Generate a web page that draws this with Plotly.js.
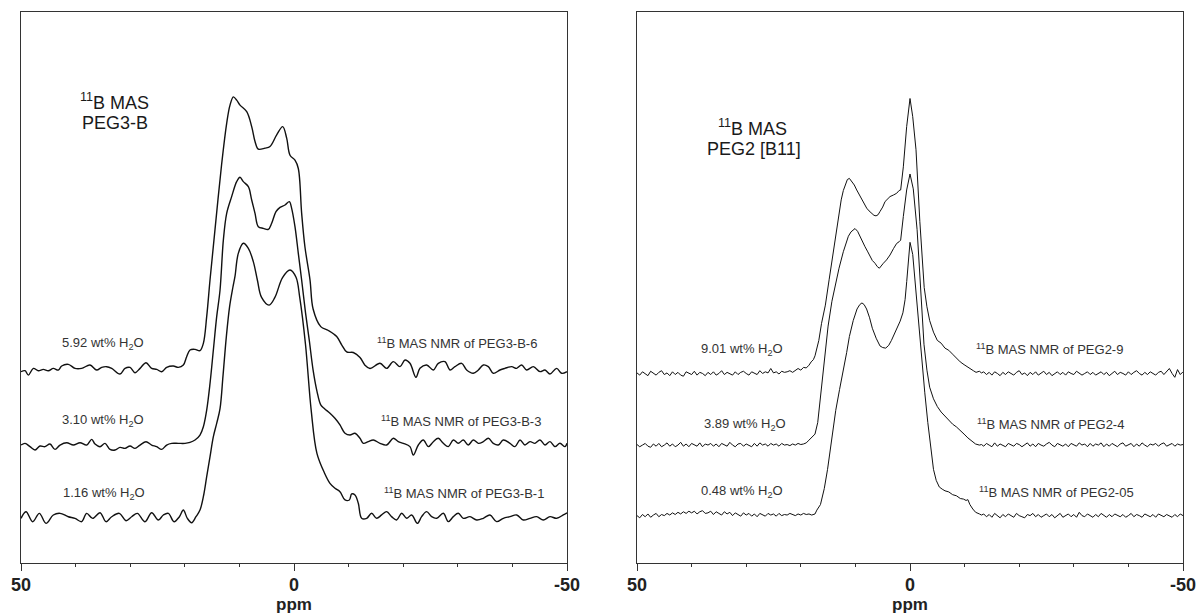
<!DOCTYPE html>
<html>
<head>
<meta charset="utf-8">
<script src="https://cdn.plot.ly/plotly-3.0.1.min.js"></script>
<style>html,body{margin:0;padding:0;background:#fff;}#chart{width:1197px;height:615px;}</style>
</head>
<body>
<div id="chart"></div>
<script>
// ---------- Left panel: 11B MAS PEG3-B (ppm, intensity as displayed) ----------
const peg3b6_ppm = [50, 49.26, 48.65, 47.74, 46.82, 45.91, 44.99, 44.08, 43.16, 42.55,
 41.33, 40.11, 38.89, 37.36, 36.14, 35.22, 34.31, 33.39, 31.87, 30.95,
 30.03, 29.12, 28.2, 27.1, 26.07, 25.15, 24.23, 23.32, 22.1, 21.18,
 20.27, 19.66, 19.05, 18.13, 17.22, 16.6, 15.99, 15.38, 14.47, 13.24,
 12.33, 11.72, 11.1, 10.5, 9.89, 8.66, 7.75, 7.14, 6.53, 5.31,
 4.4, 3.17, 2.07, 1.34, 0.73, -0.18, -0.79, -1.4, -2.0, -2.93,
 -3.5, -4.9, -6.3, -7.82, -8.73, -9.65, -10.86, -12.09, -13.0, -13.92,
 -15.75, -16.97, -18.19, -19.41, -20.33, -21.24, -22.34, -23.07, -24.29, -25.52,
 -26.43, -27.65, -28.57, -29.48, -30.7, -31.62, -32.84, -33.76, -34.67, -35.59,
 -36.5, -37.73, -38.64, -39.86, -40.78, -41.69, -42.61, -43.83, -45.05, -45.97,
 -46.88, -48.1, -49.02, -50];
const peg3b6_int = [34.72, 34.9, 34.1, 35.32, 34.9, 35.14, 34.9, 35.32, 35.02, 35.75,
 36.05, 35.32, 35.32, 35.93, 35.02, 35.5, 35.63, 35.32, 34.3, 35.32,
 35.5, 34.54, 35.32, 36.35, 35.32, 35.14, 34.72, 35.5, 35.75, 35.5,
 35.93, 37.44, 38.65, 38.77, 38.53, 39.86, 44.7, 51.4, 60.5, 72.5,
 79.8, 83.1, 84.6, 84.0, 83.1, 81.9, 79.2, 76.5, 75.1, 75.3,
 75.6, 77.7, 79.2, 77.1, 74.0, 73.1, 71.6, 63.5, 57.4, 51.4,
 46.1, 42.9, 42.2, 41.1, 39.6, 38.3, 38.2, 37.3, 35.9, 35.3,
 36.24, 35.33, 36.54, 35.64, 36.85, 36.24, 33.7, 35.33, 35.94, 35.03,
 36.24, 36.54, 35.03, 35.64, 36.24, 35.03, 34.43, 35.03, 35.94, 35.64,
 34.43, 35.03, 35.33, 35.64, 35.33, 35.94, 35.03, 35.64, 34.73, 35.03,
 34.3, 35.33, 34.43, 34.73];

const peg3b3_ppm = [50, 49.26, 48.35, 47.43, 46.52, 45.6, 44.69, 43.77, 42.85, 41.63,
 40.41, 39.19, 37.97, 37.05, 36.44, 35.53, 34.61, 33.7, 32.78, 31.87,
 30.95, 30.03, 29.12, 28.2, 27.1, 26.07, 25.15, 24.23, 23.32, 22.4,
 21.18, 19.96, 19.05, 18.13, 17.22, 16.6, 15.99, 15.38, 14.77, 14.16,
 13.55, 12.94, 12.33, 11.42, 10.5, 9.89, 9.28, 8.36, 7.75, 7.14,
 6.53, 5.62, 4.7, 4.09, 3.3, 2.56, 1.65, 0.85, 0.43, -0.18,
 -0.79, -1.4, -2.1, -2.8, -3.5, -4.2, -4.9, -5.6, -6.59, -7.5,
 -8.42, -9.34, -10.25, -11.17, -12.08, -12.7, -13.61, -14.53, -15.75, -16.97,
 -18.19, -19.1, -20.02, -21.24, -21.85, -22.77, -23.68, -24.6, -25.52, -26.43,
 -27.35, -28.26, -29.18, -30.09, -31.01, -31.92, -32.84, -33.76, -34.67, -35.59,
 -36.5, -37.42, -38.34, -39.56, -40.47, -41.39, -42.3, -43.22, -44.14, -45.05,
 -45.97, -46.88, -47.8, -48.71, -49.63, -50];
const peg3b3_int = [21.41, 21.71, 21.11, 20.5, 21.23, 21.11, 21.59, 20.62, 21.41, 21.83,
 21.41, 21.83, 21.41, 22.44, 21.59, 21.11, 21.71, 20.62, 20.5, 20.99,
 20.8, 21.23, 20.8, 21.41, 22.01, 21.41, 21.11, 20.62, 21.41, 21.71,
 21.71, 21.71, 21.89, 22.32, 23.22, 24.74, 27.76, 32.6, 38.65, 44.7,
 49.5, 58.6, 63.46, 66.49, 69.21, 70.0, 69.21, 68.3, 65.88, 63.46,
 61.04, 60.74, 60.56, 61.65, 63.76, 64.55, 64.97, 65.58, 64.37, 61.04,
 56.2, 51.36, 45.5, 40.4, 35.0, 31.2, 28.7, 28.0, 27.17, 26.26,
 25.05, 23.54, 23.23, 23.54, 22.63, 21.72, 22.02, 22.33, 21.72, 21.42,
 22.63, 22.02, 21.72, 21.12, 19.6, 21.42, 22.33, 21.12, 22.02, 22.63,
 21.72, 21.12, 22.33, 21.72, 22.33, 21.42, 22.33, 21.72, 22.02, 22.63,
 21.72, 21.42, 22.33, 21.72, 21.12, 22.33, 21.42, 22.02, 21.72, 22.33,
 21.42, 22.02, 21.12, 21.72, 21.12, 21.72];

const peg3b1_ppm = [50, 49.08, 47.86, 46.64, 45.42, 44.08, 42.85, 41.33, 40.11, 38.89,
 37.97, 36.87, 35.53, 34.43, 33.39, 31.99, 30.77, 29.73, 28.69, 27.29,
 26.07, 24.85, 23.93, 23.01, 21.97, 20.99, 20.27, 19.53, 18.74, 17.95,
 17.22, 16.6, 15.99, 15.38, 14.77, 14.16, 13.55, 13.0, 12.4, 11.8,
 11.2, 10.81, 10.2, 9.28, 8.36, 7.45, 6.71, 5.94, 4.55, 3.5,
 2.1, 0.73, -0.37, -1.05, -2.1, -3.15, -4.2, -5.6, -6.59, -7.51,
 -8.42, -9.34, -10.13, -10.56, -11.17, -11.78, -12.39, -13.31, -14.22, -15.14,
 -16.05, -16.97, -17.88, -18.8, -19.72, -20.63, -21.55, -22.59, -23.38, -24.29,
 -25.21, -26.13, -27.35, -28.26, -29.18, -30.09, -31.01, -32.23, -33.45, -34.67,
 -35.89, -37.11, -38.34, -39.56, -40.78, -42.0, -43.22, -44.44, -45.66, -46.88,
 -48.1, -49.32, -50];
const peg3b1_int = [8.1, 9.31, 7.5, 9.01, 7.19, 8.71, 9.01, 8.4, 8.1, 7.5,
 9.01, 8.1, 9.13, 7.5, 8.4, 9.01, 7.68, 8.4, 9.01, 7.5,
 9.13, 7.8, 8.71, 9.01, 7.5, 8.4, 9.61, 8.1, 7.31, 8.4,
 9.61, 12.03, 15.66, 19.29, 22.92, 25.34, 28.0, 34.0, 41.0, 46.5,
 50.0, 52.0, 56.2, 58.02, 57.11, 54.69, 51.36, 48.2, 46.8, 48.2,
 51.8, 53.18, 51.85, 48.2, 39.7, 27.7, 19.9, 16.3, 14.46, 13.56,
 12.95, 11.44, 11.44, 12.53, 12.35, 10.83, 8.11, 8.11, 9.02, 8.11,
 8.72, 9.32, 8.41, 7.81, 9.02, 8.11, 8.72, 7.2, 8.41, 9.32,
 8.41, 8.11, 9.02, 7.51, 8.41, 9.02, 8.11, 8.41, 7.81, 8.11,
 8.72, 7.51, 8.11, 8.41, 8.72, 7.81, 8.11, 8.41, 7.81, 8.41,
 8.11, 8.72, 9.1];

// ---------- Right panel: 11B MAS PEG2 [B11] ----------
const ppmBaseLeft = [50, 49.5, 49, 48.5, 48, 47.5, 47, 46.5, 46, 45.5,
 45, 44.5, 44, 43.5, 43, 42.5, 42, 41.5, 41, 40.5,
 40, 39.5, 39, 38.5, 38, 37.5, 37, 36.5, 36, 35.5,
 35, 34.5, 34, 33.5, 33, 32.5, 32, 31.5, 31, 30.5,
 30, 29.5, 29, 28.5, 28, 27.5, 27, 26.5, 26, 25.5,
 25, 24.5, 24, 23.5, 23];
const ppmBaseRight = [-13.5, -14, -14.5, -15, -15.5, -16, -16.5, -17, -17.5, -18,
 -18.5, -19, -19.5, -20, -20.5, -21, -21.5, -22, -22.5, -23,
 -23.5, -24, -24.5, -25, -25.5, -26, -26.5, -27, -27.5, -28,
 -28.5, -29, -29.5, -30, -30.5, -31, -31.5, -32, -32.5, -33,
 -33.5, -34, -34.5, -35, -35.5, -36, -36.5, -37, -37.5, -38,
 -38.5, -39, -39.5, -40, -40.5, -41, -41.5, -42, -42.5, -43,
 -43.5, -44, -44.5, -45, -45.5, -46, -46.5, -47, -47.5, -48,
 -48.5, -49, -49.5, -50];

// PEG2-9
const peg2_9_baseLeft = [34.5, 34.1, 34.7, 34.3, 34.0, 34.8, 34.4, 34.1, 34.6, 34.9,
 34.2, 34.5, 34.0, 34.7, 34.2, 34.6, 34.1, 33.9, 34.7, 34.4,
 34.2, 34.8, 34.1, 34.6, 34.4, 34.0, 34.6, 34.2, 34.7, 34.1,
 34.4, 34.9, 34.2, 34.6, 34.4, 34.1, 34.7, 34.2, 34.6, 34.8,
 34.4, 34.1, 34.7, 34.5, 34.2, 34.9, 34.4, 34.7, 34.5, 35.3,
 34.5, 34.7, 34.3, 34.8, 34.6];
const peg2_9_peakPpm = [22.5, 22, 21.5, 21, 20.5, 20, 19.5, 19, 18.5, 18.1,
 17.7, 17.4, 16.7, 16.2, 15.5, 14.8, 14.04, 13.5, 13.12, 12.6,
 12.21, 11.8, 11.47, 11.1, 10.68, 10.2, 9.76, 9.3, 8.85, 8.4,
 7.93, 7.5, 7.02, 6.6, 6.22, 5.85, 5.49, 5.0, 4.57, 4.1,
 3.66, 3.0, 2.44, 2.0, 1.71, 1.22, 0.61, 0.0, -0.5, -1.1,
 -1.8, -2.6, -3.1, -3.6, -4.3, -5.0, -5.7, -6.4, -7.1, -7.8,
 -8.5, -9.2, -9.9, -10.6, -11.1, -11.6, -12.1, -12.7, -13.1];
const peg2_9_peak = [34.7, 34.9, 34.6, 35.0, 35.3, 35.0, 35.5, 35.4, 35.9, 36.5,
 36.9, 37.6, 40.4, 43.5, 46.8, 51.5, 56.8, 60.3, 62.8, 65.9,
 67.6, 68.9, 69.6, 69.8, 69.3, 68.6, 67.7, 66.9, 65.9, 65.2,
 64.4, 63.9, 63.5, 63.1, 63.0, 63.2, 63.8, 64.6, 65.6, 66.1,
 66.5, 66.8, 67.1, 67.6, 67.7, 71.9, 79.2, 84.3, 81.0, 75.0,
 62.0, 50.0, 46.5, 44.0, 41.9, 40.4, 39.9, 39.0, 38.6, 37.9,
 37.1, 36.5, 36.0, 35.5, 35.3, 34.9, 34.6, 34.8, 34.5];
const peg2_9_baseRight = [34.7, 34.2, 34.6, 34.1, 34.7, 34.4, 34.0, 34.6, 34.2, 34.7,
 34.4, 34.1, 34.6, 34.9, 34.2, 34.5, 34.0, 34.6, 34.2, 34.7,
 34.1, 34.4, 34.8, 34.2, 34.6, 34.0, 34.4, 34.7, 34.2, 34.6,
 34.1, 34.7, 34.4, 34.2, 34.8, 34.5, 34.1, 34.4, 34.7, 34.2,
 34.6, 34.1, 34.4, 34.7, 34.2, 34.6, 34.0, 34.4, 34.8, 34.2,
 34.6, 34.4, 34.1, 34.7, 34.2, 34.6, 34.9, 34.4, 34.1, 34.6,
 34.2, 34.7, 34.4, 34.1, 34.6, 34.8, 34.2, 34.7, 35.3, 34.4,
 33.7, 35.1, 34.2, 34.7];

// PEG2-4
const peg2_4_baseLeft = [21.5, 21.1, 21.4, 21.7, 21.2, 21.0, 21.6, 21.2, 21.7, 21.1,
 21.4, 21.8, 21.2, 21.6, 21.1, 21.4, 21.9, 21.2, 21.6, 21.1,
 21.7, 21.4, 21.2, 21.8, 21.1, 21.6, 21.4, 21.7, 21.2, 21.6,
 21.1, 21.7, 21.4, 21.2, 21.9, 21.4, 21.1, 21.6, 21.7, 21.2,
 21.6, 21.4, 21.1, 21.7, 21.2, 21.8, 21.4, 21.6, 21.2, 21.7,
 21.4, 21.6, 21.2, 21.7, 21.4];
const peg2_4_peakPpm = [22.5, 22, 21.5, 21, 20.5, 20, 19.5, 19, 18.5, 18,
 17.4, 16.9, 16.5, 16.0, 15.5, 15.0, 14.3, 13.6, 13.0, 12.21,
 11.7, 11.29, 10.8, 10.4, 10.07, 9.6, 9.15, 8.7, 8.24, 7.8,
 7.32, 6.9, 6.41, 6.0, 5.61, 5.2, 4.88, 4.3, 3.66, 3.0,
 2.44, 2.0, 1.71, 1.22, 0.61, 0.0, -0.6, -1.3, -1.9, -2.56,
 -3.1, -3.6, -4.3, -5.0, -5.7, -6.4, -7.1, -7.8, -8.5, -9.2,
 -9.9, -10.6, -11.3, -12.0, -12.7, -13.1];
const peg2_4_peak = [21.5, 21.3, 21.6, 21.4, 21.7, 21.5, 21.6, 21.8, 22.3, 22.8,
 23.4, 25.5, 29.0, 34.0, 38.8, 43.0, 47.5, 51.0, 53.5, 56.5,
 58.3, 59.3, 60.1, 60.5, 60.7, 60.2, 59.2, 58.4, 57.4, 56.6,
 55.6, 54.9, 54.4, 53.8, 53.5, 53.9, 54.4, 55.0, 55.9, 57.1,
 58.0, 58.3, 58.6, 62.9, 67.7, 70.6, 67.9, 60.5, 49.5, 39.7,
 35.0, 31.9, 29.8, 28.4, 27.4, 26.6, 25.9, 25.2, 24.7, 24.1,
 23.4, 22.7, 22.1, 21.6, 21.4, 21.5];
const peg2_4_baseRight = [21.2, 21.7, 21.4, 21.1, 21.8, 21.2, 21.6, 21.4, 21.1, 21.7,
 21.4, 21.2, 21.7, 21.5, 21.1, 21.4, 21.8, 21.2, 21.6, 21.1,
 21.7, 21.4, 21.2, 21.6, 21.9, 21.4, 21.1, 21.7, 21.4, 21.2,
 21.6, 21.1, 21.7, 21.4, 21.2, 21.8, 21.4, 21.6, 21.1, 21.7,
 21.2, 21.6, 21.4, 21.8, 21.1, 21.6, 21.2, 21.7, 21.4, 21.1,
 21.6, 21.8, 21.2, 21.4, 21.7, 21.1, 21.6, 21.2, 21.8, 21.4,
 21.1, 21.6, 21.4, 21.7, 21.2, 21.6, 21.8, 21.2, 21.4, 21.7,
 21.2, 21.6, 21.4, 21.5];

// PEG2-05
const peg2_05_baseLeft = [8.6, 8.2, 8.8, 8.4, 8.9, 8.3, 8.7, 9.0, 8.4, 8.8,
 8.6, 9.0, 8.7, 9.1, 8.8, 9.2, 8.9, 9.3, 9.0, 9.4,
 9.1, 9.4, 8.9, 9.3, 9.5, 9.0, 9.1, 9.4, 8.8, 9.3,
 9.0, 8.7, 9.3, 8.9, 9.2, 8.6, 9.1, 8.8, 8.5, 9.1,
 8.7, 9.0, 8.5, 8.9, 8.4, 9.0, 8.7, 8.5, 9.0, 8.7,
 8.9, 8.5, 9.0, 8.6, 8.8];
const peg2_05_peakPpm = [22.5, 22, 21.5, 21, 20.5, 20, 19.5, 19, 18.5, 18,
 17.4, 17.06, 16.4, 15.7, 15.1, 14.6, 13.6, 12.9, 12.2, 11.6,
 11.1, 10.4, 9.7, 9.2, 8.8, 8.4, 7.95, 7.4, 6.9, 6.2,
 5.5, 5.0, 4.45, 3.9, 3.4, 2.9, 2.35, 1.8, 1.3, 0.9,
 0.6, 0.25, 0.0, -0.5, -1.16, -1.7, -2.2, -2.7, -3.26, -3.8,
 -4.3, -4.8, -5.36, -5.9, -6.41, -7.1, -7.81, -8.5, -9.22, -9.8,
 -10.27, -10.6, -10.97, -11.5, -12.02, -12.72, -13.1];
const peg2_05_peak = [8.7, 9.0, 8.8, 8.6, 8.9, 8.7, 9.0, 8.8, 8.9, 8.7,
 8.9, 9.6, 10.6, 13.5, 17.0, 20.6, 27.7, 31.5, 34.8, 38.2,
 41.1, 44.0, 46.1, 46.9, 47.2, 46.9, 46.1, 44.5, 42.6, 40.8,
 39.4, 39.1, 39.0, 39.5, 40.4, 41.4, 42.6, 43.9, 45.4, 47.8,
 51.1, 55.3, 58.2, 56.0, 48.2, 42.5, 36.9, 31.0, 25.5, 20.8,
 17.0, 15.0, 13.8, 13.4, 13.1, 12.9, 12.4, 12.2, 11.7, 11.6,
 11.35, 11.5, 10.6, 9.8, 9.2, 8.9, 8.7];
const peg2_05_baseRight = [8.9, 8.4, 8.8, 8.3, 9.0, 8.6, 8.2, 8.8, 8.4, 8.9,
 8.6, 8.3, 9.0, 8.6, 8.4, 8.2, 8.8, 8.6, 9.0, 8.4,
 8.8, 8.3, 8.6, 8.9, 8.4, 8.8, 8.2, 8.6, 9.0, 8.3,
 8.6, 8.9, 8.4, 8.8, 8.3, 9.2, 8.6, 8.4, 8.9, 8.6,
 8.3, 8.8, 8.4, 9.0, 8.6, 8.3, 8.8, 8.4, 8.9, 8.6,
 8.4, 8.8, 8.3, 8.6, 9.0, 8.4, 8.8, 8.6, 8.3, 8.9,
 8.6, 8.4, 8.8, 8.3, 8.9, 8.6, 8.4, 8.8, 8.6, 8.3,
 8.8, 8.4, 8.9, 8.6];

// ---------- Tick labels and texts ----------
const tickValues = [50, 0, -50];
const tickLabels = ['50', '0', '-50'];
const minorTickStep = 10;
const axisTitle = 'ppm';
const leftTitleLines = ['<sup>11</sup>B MAS', 'PEG3-B'];
const rightTitleLines = ['<sup>11</sup>B MAS', 'PEG2 [B11]'];
const leftWaterLabels = ['5.92 wt% H<sub>2</sub>O', '3.10 wt% H<sub>2</sub>O', '1.16 wt% H<sub>2</sub>O'];
const leftSampleLabels = ['<sup>11</sup>B MAS NMR of PEG3-B-6', '<sup>11</sup>B MAS NMR of PEG3-B-3', '<sup>11</sup>B MAS NMR of PEG3-B-1'];
const rightWaterLabels = ['9.01 wt% H<sub>2</sub>O', '3.89 wt% H<sub>2</sub>O', '0.48 wt% H<sub>2</sub>O'];
const rightSampleLabels = ['<sup>11</sup>B MAS NMR of PEG2-9', '<sup>11</sup>B MAS NMR of PEG2-4', '<sup>11</sup>B MAS NMR of PEG2-05'];

// ---------- build ----------
const FONT = 'Liberation Sans, Arial, Helvetica, sans-serif';
const lineL = {color: '#111111', width: 1.4, shape: 'spline', smoothing: 1};
const lineR = {color: '#111111', width: 1.0, shape: 'linear'};

function rightTrace(baseL, peakX, peakY, baseR) {
  return {
    x: ppmBaseLeft.concat(peakX, ppmBaseRight),
    y: baseL.concat(peakY, baseR),
    type: 'scatter', mode: 'lines', line: lineR, xaxis: 'x2', yaxis: 'y2', hoverinfo: 'skip'
  };
}

const data = [
  {x: peg3b6_ppm, y: peg3b6_int, type: 'scatter', mode: 'lines', line: lineL, xaxis: 'x', yaxis: 'y'},
  {x: peg3b3_ppm, y: peg3b3_int, type: 'scatter', mode: 'lines', line: lineL, xaxis: 'x', yaxis: 'y'},
  {x: peg3b1_ppm, y: peg3b1_int, type: 'scatter', mode: 'lines', line: lineL, xaxis: 'x', yaxis: 'y'},
  rightTrace(peg2_9_baseLeft, peg2_9_peakPpm, peg2_9_peak, peg2_9_baseRight),
  rightTrace(peg2_4_baseLeft, peg2_4_peakPpm, peg2_4_peak, peg2_4_baseRight),
  rightTrace(peg2_05_baseLeft, peg2_05_peakPpm, peg2_05_peak, peg2_05_baseRight)
];

function xAxis(domain, anchor) {
  return {
    domain: domain, anchor: anchor, range: [50, -50],
    tickmode: 'array', tickvals: tickValues, ticktext: tickLabels,
    ticks: 'outside', ticklen: 7, tickwidth: 1, tickcolor: '#333',
    ticklabelstandoff: -2,
    tickfont: {family: FONT, size: 18, color: '#222', weight: 700},
    minor: {tickmode: 'linear', tick0: 0, dtick: minorTickStep, ticks: 'outside', ticklen: 3, tickwidth: 1, tickcolor: '#333', showgrid: false},
    showline: true, mirror: true, linecolor: '#333', linewidth: 1,
    showgrid: false, zeroline: false, fixedrange: true,
    title: {text: axisTitle, font: {family: FONT, size: 17, color: '#222', weight: 700}, standoff: 2}
  };
}
function yAxis(anchor) {
  return {
    domain: [0, 1], anchor: anchor, range: [0, 100],
    showticklabels: false, ticks: '', showgrid: false, zeroline: false,
    showline: true, mirror: true, linecolor: '#333', linewidth: 1, fixedrange: true
  };
}

const small = {family: FONT, size: 13, color: '#333'};
const big = {family: FONT, size: 18, color: '#1a1a1a'};
function ann(xr, yr, x, y, text, font) {
  return {xref: xr, yref: yr, x: x, y: y, text: text, showarrow: false, font: font, xanchor: 'center', yanchor: 'middle'};
}
const waterY_L = [39.9, 25.8, 12.7], waterX_L = [35.0, 35.0, 34.8], sampleX_L = [-29.85, -30.6, -31.1];
const waterY_R = [38.8, 25.2, 12.9], waterX_R = [30.7, 30.3, 30.7], sampleX_R = [-25.6, -25.8, -26.9];
const annotations = [
  ann('x', 'y', 32.8, 83.8, leftTitleLines[0], big),
  ann('x', 'y', 32.8, 79.9, leftTitleLines[1], big),
  ann('x2', 'y2', 28.9, 79.1, rightTitleLines[0], big),
  ann('x2', 'y2', 28.6, 75.1, rightTitleLines[1], big)
];
for (let i = 0; i < 3; i++) {
  annotations.push(ann('x', 'y', waterX_L[i], waterY_L[i], leftWaterLabels[i], small));
  annotations.push(ann('x', 'y', sampleX_L[i], waterY_L[i], leftSampleLabels[i], small));
  annotations.push(ann('x2', 'y2', waterX_R[i], waterY_R[i], rightWaterLabels[i], small));
  annotations.push(ann('x2', 'y2', sampleX_R[i], waterY_R[i], rightSampleLabels[i], small));
}

const layout = {
  width: 1197, height: 615,
  margin: {l: 0, r: 0, t: 12, b: 52},
  paper_bgcolor: '#ffffff', plot_bgcolor: '#ffffff',
  showlegend: false,
  font: {family: FONT},
  xaxis: xAxis([21 / 1197, 567 / 1197], 'y'),
  yaxis: yAxis('x'),
  xaxis2: xAxis([637 / 1197, 1183 / 1197], 'y2'),
  yaxis2: yAxis('x2'),
  annotations: annotations
};

Plotly.newPlot('chart', data, layout, {staticPlot: true, displayModeBar: false});
</script>
</body>
</html>
